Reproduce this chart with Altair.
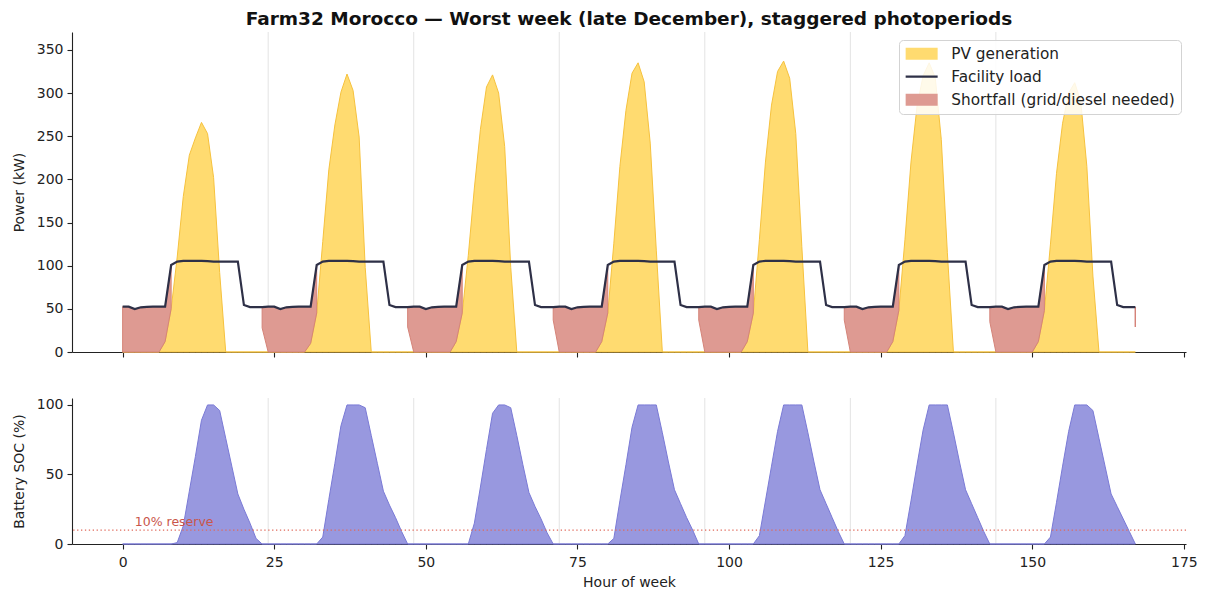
import altair as alt
import pandas as pd

# ---------------- data ----------------
hours = list(range(168))

load_day = [52.5, 52.5, 49.7, 51.8, 52.3, 52.5, 52.5, 52.5,
            100.8, 104.8, 105.6, 105.6, 105.6, 105.6, 105.2, 104.8,
            104.8, 104.8, 104.8, 104.8, 54.4, 52.0, 52.0, 52.0]
load_kw = load_day * 7

pv_d1 = [0] * 7 + [12, 50, 110, 180, 228, 248, 266, 253, 202, 92] + [0] * 7
pv_d2 = [0] * 7 + [10, 45, 128, 211, 263, 301, 322, 303, 249, 98] + [0] * 7
pv_d3 = [0] * 7 + [12, 45, 112, 190, 258, 307, 321, 300, 238, 98] + [0] * 7
pv_d4 = [0] * 7 + [12, 45, 126, 215, 280, 323, 335, 313, 242, 118] + [0] * 7
pv_d5 = [0] * 7 + [12, 45, 130, 220, 286, 325, 337, 317, 253, 122] + [0] * 7
pv_d6 = [0] * 7 + [12, 48, 130, 220, 285, 320, 335, 318, 246, 115] + [0] * 7
pv_d7 = [0] * 7 + [12, 48, 125, 207, 265, 300, 312, 290, 215, 88] + [0] * 7
pv_kw = pv_d1 + pv_d2 + pv_d3 + pv_d4 + pv_d5 + pv_d6 + pv_d7

night = [52.5, 52.5, 49.7, 51.8, 52.3, 52.5, 52.5]
sf_d1 = night + [40.5, 50.5] + [0] * 14 + [24]
sf_d2 = night + [42.5, 55.5] + [0] * 14 + [23]
sf_d3 = night + [40.5, 55.5] + [0] * 14 + [15]
sf_d4 = night + [40.5, 55.5] + [0] * 14 + [15]
sf_d5 = night + [40.5, 55.5] + [0] * 14 + [15]
sf_d6 = night + [40.5, 52.5] + [0] * 14 + [17]
sf_d7 = night + [40.5, 52.5] + [0] * 14 + [23]
shortfall_kw = sf_d1 + sf_d2 + sf_d3 + sf_d4 + sf_d5 + sf_d6 + sf_d7

soc_d1 = [0] * 9 + [1, 13, 38, 63, 89, 100, 100, 96, 76, 56, 36, 25, 15, 4, 0]
soc_d2 = [0] * 9 + [5, 32, 58, 85, 100, 100, 100, 98, 78, 58, 38, 28, 19, 9, 0]
soc_d3 = [0] * 10 + [15, 41, 68, 94, 100, 100, 98, 78, 57, 37, 27, 18, 8, 0]
soc_d4 = [0] * 9 + [4, 31, 57, 84, 100, 100, 100, 100, 80, 59, 39, 29, 19, 10, 0]
soc_d5 = [0] * 9 + [6, 31, 56, 81, 100, 100, 100, 100, 80, 59, 39, 29, 19, 9, 0]
soc_d6 = [0] * 9 + [6, 31, 57, 82, 100, 100, 100, 100, 80, 59, 39, 29, 19, 9, 0]
soc_d7 = [0] * 9 + [5, 30, 56, 81, 100, 100, 100, 96, 76, 56, 36, 27, 18, 9, 0]
soc_pct = soc_d1 + soc_d2 + soc_d3 + soc_d4 + soc_d5 + soc_d6 + soc_d7

day_bounds = [24, 48, 72, 96, 120, 144]
x_ticks = [0, 25, 50, 75, 100, 125, 150, 175]
power_ticks = [0, 50, 100, 150, 200, 250, 300, 350]
soc_ticks = [0, 50, 100]
reserve_level = [10]
reserve_label = ["10% reserve"]
reserve_label_hour = [2]

series_names = ["PV generation", "Facility load", "Shortfall (grid/diesel needed)"]
series_colors = ["#FFDB70", "#2E3047", "#DE9A92"]
series_shapes = ["M-4,-1.5H4V1.5H-4Z", "M-4,-0.27H4V0.27H-4Z", "M-4,-1.5H4V1.5H-4Z"]

PV_FILL, PV_EDGE = "#FFDB70", "#F6C23E"
LOAD_COL = "#2E3047"
SF_FILL, SF_EDGE = "#DE9A92", "#D58479"
SOC_FILL, SOC_EDGE = "#9898DF", "#7A7AD6"

# ---------------- tables ----------------
df = pd.DataFrame({"hour": hours, "pv": pv_kw, "load": load_kw,
                   "soc": soc_pct, "short": shortfall_kw})
df["short_lo"] = df["load"] - df["short"]
has_short = df["short"] > 0
df["seg"] = (has_short != has_short.shift(fill_value=False)).cumsum()
short_df = df[has_short].copy()
seg_len = short_df.groupby("seg")["hour"].transform("count")
single_df = short_df[seg_len == 1]

grid_df = pd.DataFrame({"hour": day_bounds})
reserve_df = pd.DataFrame({"soc": reserve_level})
label_df = pd.DataFrame({"hour": reserve_label_hour, "soc": reserve_level,
                         "txt": reserve_label})
legend_df = pd.DataFrame({"series": series_names})

FONT = "DejaVu Sans"
xscale = alt.Scale(domain=[-8.35, 175.35], nice=False, zero=False)


def x_enc(show_labels):
    if show_labels:
        ax = alt.Axis(values=x_ticks, title="Hour of week", format="d")
    else:
        ax = alt.Axis(values=x_ticks, labels=False, title=None)
    return alt.X("hour:Q", scale=xscale, axis=ax)


pscale = alt.Scale(domain=[0, 370.7], nice=False)
paxis = alt.Axis(values=power_ticks, title="Power (kW)")


def y_pow(field):
    return alt.Y(field + ":Q", scale=pscale, axis=paxis)


legend = alt.Legend(
    title=None, orient="none", legendX=827, legendY=8,
    fillColor="rgba(255,255,255,0.85)", strokeColor="#d3d3d3",
    cornerRadius=4, padding=6, labelFontSize=15.3, labelFont=FONT,
    labelColor="#222", rowPadding=7.0, symbolSize=64, symbolOffset=9,
    labelOffset=22, symbolOpacity=1, symbolStrokeWidth=0, labelLimit=400,
)

grid_top = alt.Chart(grid_df).mark_rule(color="#e3e3e3", strokeWidth=1).encode(
    x=x_enc(False))

pv_area = alt.Chart(df).mark_area(
    fill=PV_FILL, stroke=PV_EDGE, strokeWidth=1, fillOpacity=1
).encode(x=x_enc(False), y=y_pow("pv"))

short_area = alt.Chart(short_df).mark_area(
    fill=SF_FILL, stroke=SF_EDGE, strokeWidth=1, fillOpacity=1
).encode(x=x_enc(False), y=y_pow("short_lo"), y2="load:Q", detail="seg:N")

short_rule = alt.Chart(single_df).mark_rule(color=SF_EDGE, strokeWidth=1.2).encode(
    x=x_enc(False), y=y_pow("short_lo"), y2="load:Q")

load_line = alt.Chart(df).mark_line(strokeWidth=2.2, color=LOAD_COL).encode(
    x=x_enc(False), y=y_pow("load"))

legend_layer = alt.Chart(legend_df).mark_point(filled=True, opacity=0).encode(
    x=alt.value(0), y=alt.value(0),
    color=alt.Color("series:N", scale=alt.Scale(domain=series_names,
                                                range=series_colors),
                    legend=legend),
    shape=alt.Shape("series:N", scale=alt.Scale(domain=series_names,
                                                range=series_shapes),
                    legend=legend),
)

top = alt.layer(grid_top, pv_area, short_area, short_rule, load_line,
                legend_layer).properties(
    width=1114, height=320,
    title=alt.TitleParams(
        text="Farm32 Morocco \u2014 Worst week (late December), staggered photoperiods",
        fontSize=18.5, fontWeight="bold", font=FONT, color="#111",
        anchor="middle", frame="group", offset=-1),
)

sscale = alt.Scale(domain=[0, 105], nice=False)
saxis = alt.Axis(values=soc_ticks, title="Battery SOC (%)")

grid_bot = alt.Chart(grid_df).mark_rule(color="#e3e3e3", strokeWidth=1).encode(
    x=x_enc(True))

soc_area = alt.Chart(df).mark_area(
    fill=SOC_FILL, stroke=SOC_EDGE, strokeWidth=1, fillOpacity=1
).encode(x=x_enc(True), y=alt.Y("soc:Q", scale=sscale, axis=saxis))

reserve_rule = alt.Chart(reserve_df).mark_rule(
    color="#E0695A", strokeWidth=1.3, strokeDash=[1.3, 2.6]
).encode(y=alt.Y("soc:Q", scale=sscale, axis=saxis))

reserve_text = alt.Chart(label_df).mark_text(
    align="left", baseline="bottom", dy=-1, fontSize=12.5, font=FONT,
    color="#C9564A"
).encode(x=x_enc(True), y=alt.Y("soc:Q", scale=sscale, axis=saxis), text="txt:N")

bottom = alt.layer(grid_bot, soc_area, reserve_rule, reserve_text).properties(
    width=1114, height=146)

chart = alt.vconcat(top, bottom, spacing=38).properties(
    padding={"left": 4, "top": 2, "right": 0, "bottom": 0}
).configure_view(strokeWidth=0).configure_axis(
    grid=False, domainColor="#222", tickColor="#222", labelColor="#222",
    titleColor="#222", labelFont=FONT, titleFont=FONT, labelFontSize=14,
    titleFontSize=14, titleFontWeight="normal", tickSize=5, domainWidth=1.1,
    tickWidth=1.1, labelPadding=4
).configure_axisY(titlePadding=10).configure_axisX(titlePadding=6, labelPadding=6)

chart.save("out.html", embed_options={"renderer": "svg", "actions": False})
